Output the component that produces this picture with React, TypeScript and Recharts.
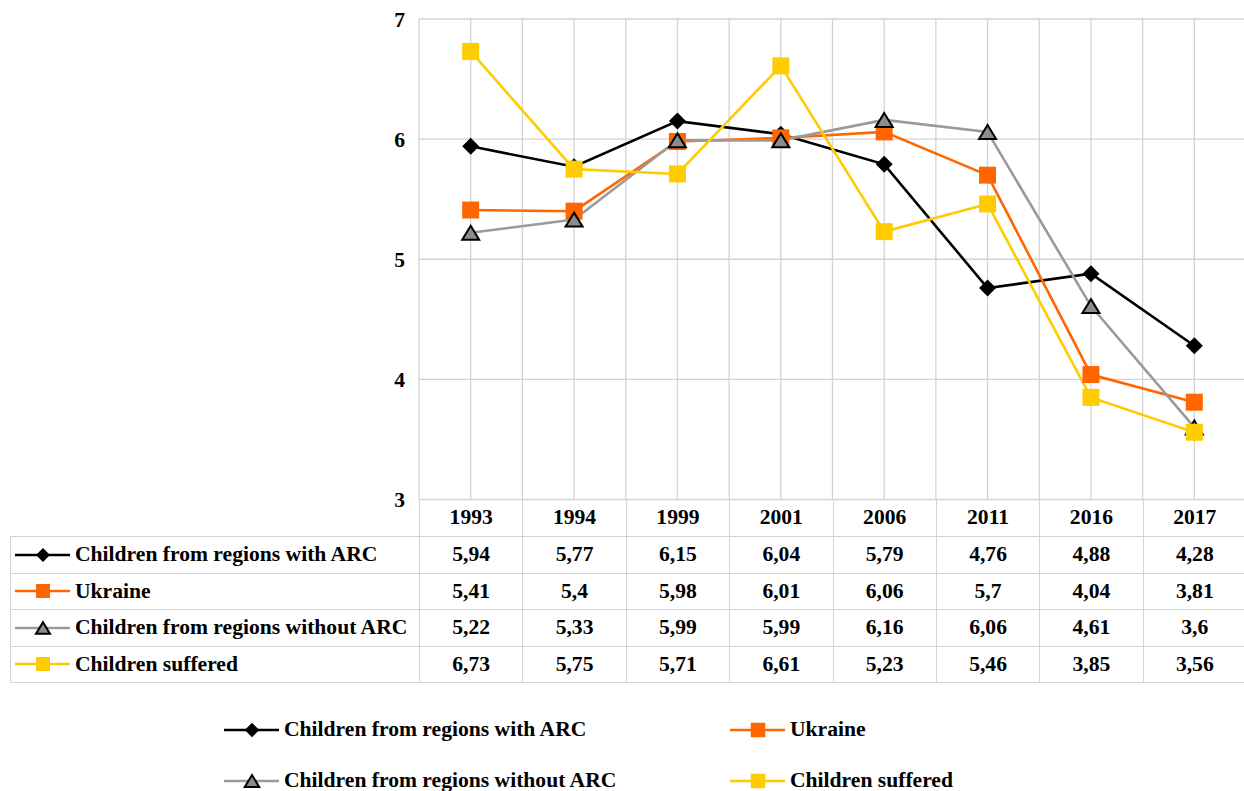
import React from 'react';
import { LineChart, Line, XAxis, YAxis, CartesianGrid } from 'recharts';

const years = ['1993', '1994', '1999', '2001', '2006', '2011', '2016', '2017'];
const withArc = [5.94, 5.77, 6.15, 6.04, 5.79, 4.76, 4.88, 4.28];
const ukraine = [5.41, 5.4, 5.98, 6.01, 6.06, 5.7, 4.04, 3.81];
const withoutArc = [5.22, 5.33, 5.99, 5.99, 6.16, 6.06, 4.61, 3.6];
const suffered = [6.73, 5.75, 5.71, 6.61, 5.23, 5.46, 3.85, 3.56];
const yTicks = [3, 4, 5, 6, 7];

type Shape = 'diamond' | 'square' | 'triangle';

interface SeriesDef {
  key: string;
  name: string;
  color: string;
  shape: Shape;
  values: number[];
}

const series: SeriesDef[] = [
  { key: 'withArc', name: 'Children from regions with ARC', color: '#000000', shape: 'diamond', values: withArc },
  { key: 'ukraine', name: 'Ukraine', color: '#ff6600', shape: 'square', values: ukraine },
  { key: 'withoutArc', name: 'Children from regions without ARC', color: '#9a9a9a', shape: 'triangle', values: withoutArc },
  { key: 'suffered', name: 'Children suffered', color: '#ffcc00', shape: 'square', values: suffered },
];

const data = years.map((year, i) => {
  const row: Record<string, string | number> = { year };
  series.forEach((s) => {
    row[s.key] = s.values[i];
  });
  return row;
});

// layout
const CHART_W = 1262;
const CHART_H = 791;
const PLOT_LEFT = 419;
const PLOT_RIGHT = 1246;
const PLOT_TOP = 19;
const PLOT_BOTTOM = 499.5;
const Y_AXIS_W = 40;
const COL_W = (PLOT_RIGHT - PLOT_LEFT) / years.length;
const GRID = '#d3d3d3';
const FONT = '"Liberation Serif", "Times New Roman", serif';
const FS = 21.6;

const fmt = (v: number) => String(v).replace('.', ',');

const Marker = ({ shape, cx, cy, size, color }: { shape: Shape; cx: number; cy: number; size: number; color: string }) => {
  const h = size / 2;
  if (shape === 'diamond') {
    return <polygon points={`${cx},${cy - h} ${cx + h},${cy} ${cx},${cy + h} ${cx - h},${cy}`} fill={color} />;
  }
  if (shape === 'triangle') {
    const t = h * 0.82;
    return (
      <polygon
        points={`${cx},${cy - t} ${cx + h},${cy + t} ${cx - h},${cy + t}`}
        fill="#8c8c8c"
        stroke="#000"
        strokeWidth={2}
      />
    );
  }
  return <rect x={cx - h} y={cy - h} width={size} height={size} fill={color} />;
};

const LegendKey = ({ s, size }: { s: SeriesDef; size: number }) => (
  <svg width={55} height={20} style={{ display: 'block', flex: 'none' }}>
    <line x1={0} y1={10} x2={55} y2={10} stroke={s.color} strokeWidth={2.6} />
    <Marker shape={s.shape} cx={28} cy={10} size={size} color={s.color} />
  </svg>
);

const cellText: React.CSSProperties = {
  boxSizing: 'border-box',
  display: 'flex',
  alignItems: 'center',
  justifyContent: 'center',
  fontSize: FS,
  fontWeight: 'bold',
  color: '#000',
};

const line = `1.3px solid ${GRID}`;

const DataTable = () => (
  <div
    style={{
      position: 'absolute',
      left: 10,
      top: PLOT_BOTTOM,
      display: 'grid',
      gridTemplateColumns: `${PLOT_LEFT - 10}px repeat(${years.length}, ${COL_W}px)`,
      gridTemplateRows: `37.5px repeat(${series.length}, 36.5px)`,
    }}
  >
    <div style={{ borderBottom: line }} />
    {years.map((y) => (
      <div key={y} style={{ ...cellText, borderLeft: line, borderBottom: line }}>
        {y}
      </div>
    ))}
    {series.map((s) => (
      <React.Fragment key={s.key}>
        <div
          style={{
            ...cellText,
            justifyContent: 'flex-start',
            paddingLeft: 4,
            borderLeft: line,
            borderBottom: line,
          }}
        >
          <LegendKey s={s} size={14} />
          <span style={{ marginLeft: 5, whiteSpace: 'nowrap' }}>{s.name}</span>
        </div>
        {s.values.map((v, i) => (
          <div key={i} style={{ ...cellText, borderLeft: line, borderBottom: line }}>
            {fmt(v)}
          </div>
        ))}
      </React.Fragment>
    ))}
  </div>
);

const BottomLegend = () => (
  <div
    style={{
      position: 'absolute',
      left: 224,
      top: 704,
      display: 'grid',
      gridTemplateColumns: '506px 400px',
      gridTemplateRows: '51px 51px',
    }}
  >
    {series.map((s) => (
      <div key={s.key} style={{ ...cellText, justifyContent: 'flex-start' }}>
        <LegendKey s={s} size={14.5} />
        <span style={{ marginLeft: 5, whiteSpace: 'nowrap' }}>{s.name}</span>
      </div>
    ))}
  </div>
);

export default function App() {
  return (
    <div
      style={{
        position: 'absolute',
        left: 0,
        top: 0,
        width: 1244,
        height: 791,
        overflow: 'hidden',
        background: '#fff',
        fontFamily: FONT,
      }}
    >
      <LineChart
        width={CHART_W}
        height={CHART_H}
        data={data}
        margin={{
          top: PLOT_TOP,
          left: PLOT_LEFT - Y_AXIS_W,
          right: CHART_W - PLOT_RIGHT,
          bottom: CHART_H - PLOT_BOTTOM,
        }}
      >
        <CartesianGrid
          stroke={GRID}
          strokeWidth={1.3}
          verticalCoordinatesGenerator={({ offset }: any) =>
            Array.from({ length: years.length * 2 + 1 }, (_, i) => offset.left + (i * offset.width) / (years.length * 2))
          }
        />
        <XAxis dataKey="year" hide padding={{ left: COL_W / 2, right: COL_W / 2 }} />
        <YAxis
          width={Y_AXIS_W}
          domain={[3, 7]}
          ticks={yTicks}
          axisLine={false}
          tickLine={false}
          tickSize={6}
          tickMargin={8}
          tick={{ fill: '#000', fontSize: FS, fontWeight: 'bold', fontFamily: FONT }}
        />
        {series.map((s) => (
          <Line
            key={s.key}
            dataKey={s.key}
            name={s.name}
            type="linear"
            stroke={s.color}
            strokeWidth={2.6}
            isAnimationActive={false}
            activeDot={false}
            dot={(p: any) => (
              <Marker key={`${s.key}-${p.index}`} shape={s.shape} cx={p.cx} cy={p.cy} size={17} color={s.color} />
            )}
          />
        ))}
      </LineChart>
      <DataTable />
      <BottomLegend />
    </div>
  );
}
